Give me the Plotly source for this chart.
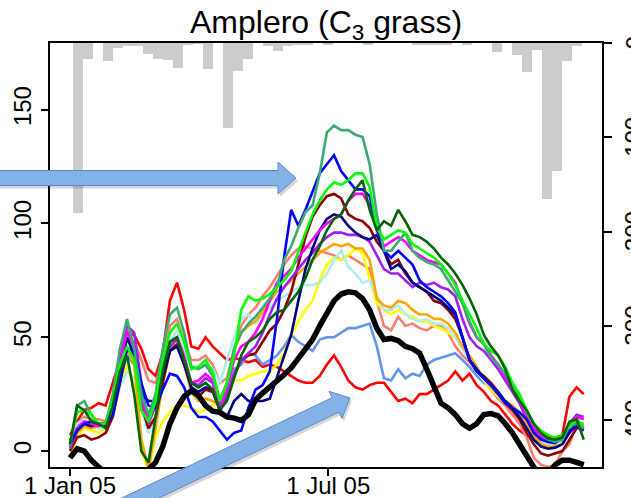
import math
import pandas as pd
import plotly.graph_objects as go

# ---------------- data ----------------
days = pd.date_range("2005-01-01", periods=73, freq="5D")

red = [7, 13, 18, 19, 21, 20, 30, 40, 52, 51,
       45, 36, 33, 43, 66, 74, 62, 46, 45, 50,
       46, 43, 40, 41, 40, 39, 40, 37, 38, 37,
       35, 33, 31, 30, 30, 33, 38, 42, 37, 31,
       28, 27, 29, 30, 30, 26, 22, 23, 21, 25,
       25, 27, 29, 31, 35, 31, 34, 29, 26, 22,
       20, 16, 12, 9, 7, 6.5, 6, 6, 6, 7,
       24, 28, 25]
salmon = [4, 12, 15, 14, 14, 13, 22, 35, 49, 48,
          40, 31, 30, 40, 55, 58, 48, 40, 40, 42,
          38, 30, 32, 45, 55, 60, 63, 68, 72, 77,
          82, 86, 89, 90, 89, 88, 87, 86, 84, 86,
          84, 82, 80, 66, 55, 53, 59, 55, 56, 54,
          53, 55, 55, 52, 46, 42, 39, 36, 31, 27,
          23, 20, 16, 12, 6, -3, -6, -7, -6, 0,
          3, 12, 12]
blue = [3, 9, 12, 13, 12, 11, 16, 30, 45, 44,
        30, 20, 19, 27, 34, 33, 28, 19, 15, 15,
        13, 9, 5, 8, 9, 19, 27, 29, 35, 58,
        85, 106, 99, 106, 114, 122, 126, 130, 123, 119,
        115, 115, 112, 98, 88, 85, 88, 85, 82, 75,
        72, 70, 68, 65, 61, 50, 40, 35, 32, 29,
        25, 21, 19, 17, 14, 8, 5, 4, 3.5, 6,
        9, 11, 9]
seagreen = [2, 20, 22, 16, 12, 12, 25, 45, 58, 45,
            25, 16, 25, 45, 60, 63, 52, 37, 36, 38,
            33, 22, 30, 45, 52, 56, 59, 63, 67, 72,
            84, 90, 98, 105, 108, 122, 140, 143, 141, 141,
            139, 138, 126, 104, 88, 88, 92, 96, 88, 85,
            83, 82, 80, 75, 70, 65, 57, 50, 47, 41,
            38, 34, 29, 24, 17, 12, 8, 5, 4, 5,
            11, 12, 10]
lime = [4, 17, 18, 16, 12, 12, 22, 38, 46, 40,
        18, 13, 22, 40, 52, 56, 48, 36, 37, 40,
        35, 22, 30, 42, 62, 68, 66, 67, 69, 72,
        75, 79, 88, 96, 104, 110, 115, 118, 117, 119,
        122, 122, 116, 98, 93, 95, 97, 96, 91, 89,
        87, 85, 82, 78, 73, 66, 60, 54, 47, 44,
        42, 37, 30, 25, 18, 12, 9, 7, 6, 7,
        11, 14, 11]
darkgreen = [3, 20, 18, 13, 12, 10, 20, 35, 42, 25,
             0, -5, 15, 35, 48, 50, 40, 30, 28, 30,
             27, 18, 22, 32, 42, 48, 50, 53, 58, 61,
             62, 66, 70, 76, 84, 90, 97, 102, 104, 110,
             115, 119, 106, 97, 101, 99, 106, 101, 95, 94,
             92, 89, 85, 82, 78, 73, 67, 60, 51, 46,
             42, 36, 27, 22, 18, 12, 8, 5.5, 5, 6,
             13, 14, 5]
darkred = [0, 6, 7, 5, 6, 8, 15, 30, 45, 42,
           20, 10, 15, 30, 44, 47, 40, 28, 24, 27,
           26, 18, 24, 33, 40, 42, 43, 48, 53, 56,
           62, 70, 82, 94, 103, 108, 112, 113, 111, 104,
           102, 101, 98, 92, 88, 82, 84, 78, 74, 72,
           70, 66, 65, 62, 58, 50, 40, 35, 33, 30,
           26, 21, 18, 14, 8, 3, -1, -2, -1, 0,
           5, 10, 10]
navy = [2, 10, 12, 11, 12, 12, 20, 35, 50, 42,
        25, 22, 22, 33, 44, 46, 38, 28, 26, 28,
        27, 18, 15, 22, 25, 22, 22, 22, 23, 32,
        42, 51, 66, 80, 89, 97, 102, 104, 103, 99,
        96, 94, 93, 95, 88, 80, 82, 79, 74, 72,
        70, 68, 66, 63, 60, 50, 40, 36, 32, 29,
        26, 22, 19, 15, 10, 5, 2, 1, 1.5, 3,
        8, 12, 10]
magenta = [2, 10, 13, 12, 11, 12, 22, 38, 53, 45,
           22, 14, 22, 37, 48, 50, 42, 30, 31, 34,
           31, 20, 28, 40, 46, 48, 52, 58, 66, 74,
           77, 80, 85, 89, 93, 97, 100, 102, 104, 110,
           113, 113, 108, 97, 90, 92, 94, 92, 88, 86,
           84, 83, 82, 78, 74, 65, 56, 50, 47, 42,
           38, 33, 27, 22, 15, 10, 7, 5, 5, 6,
           12, 15, 14]
purple = [1, 9, 12, 11, 12, 12, 22, 40, 55, 52,
          30, 12, 20, 35, 46, 49, 40, 30, 29, 32,
          30, 17, 25, 34, 40, 43, 46, 52, 60, 67,
          72, 76, 80, 84, 87, 91, 94, 96, 96, 95,
          95, 94, 92, 86, 80, 78, 78, 75, 72, 74,
          73, 74, 72, 71, 68, 58, 50, 46, 44, 40,
          36, 31, 26, 21, 14, 9, 6, 5, 5, 6,
          12, 16, 15]
orange = [0, 8, 11, 10, 11, 12, 20, 33, 45, 38,
          5, -8, 10, 30, 44, 50, 38, 26, 22, 23,
          22, 20, 30, 44, 52, 55, 57, 61, 66, 70,
          72, 75, 78, 81, 84, 87, 89, 91, 90, 91,
          89, 89, 84, 67, 64, 63, 66, 65, 62, 60,
          60, 58, 58, 56, 52, 46, 42, 37, 32, 28,
          25, 22, 20, 17, 12, 7, 3, 2, 2, 3,
          9, 13, 12]
yellow = [-2, 6, 10, 9, 8, 10, 16, 28, 38, 30,
          0, -8, 6, 13, 17, 20, 20, 19, 17, 18,
          20, 22, 28, 31, 31, 33, 34, 35, 35, 38,
          43, 51, 57, 62, 66, 75, 82, 85, 84, 86,
          89, 87, 76, 65, 62, 60, 62, 60, 59, 57,
          57, 55, 54, 52, 50, 45, 41, 36, 31, 27,
          24, 21, 19, 16, 12, 6, 3, 2, 2, 3,
          10, 13, 12]
lightcyan = [1, 12, 14, 12, 10, 10, 18, 28, 35, 32,
             18, 8, 16, 33, 48, 53, 45, 38, 36, 38,
             36, 30, 40, 50, 58, 60, 56, 60, 63, 66,
             68, 70, 72, 73, 73, 74, 78, 84, 88, 81,
             78, 74, 75, 68, 62, 62, 64, 60, 58, 57,
             58, 56, 56, 54, 50, 45, 40, 35, 31, 28,
             25, 22, 19, 16, 11, 7, 4, 3, 3, 4,
             10, 12, 10]
cornflower = [3, 11, 13, 12, 11, 12, 18, 30, 42, 38,
              20, 15, 22, 33, 44, 46, 38, 30, 28, 30,
              27, 20, 28, 36, 38, 43, 42, 38, 40, 42,
              46, 51, 48, 46, 44, 49, 50, 50, 52, 54,
              54, 55, 56, 46, 32, 31, 36, 32, 34, 33,
              38, 40, 41, 42, 43, 40, 37, 33, 30, 28,
              25, 22, 19, 16, 11, 6, 3, 2.5, 3, 4,
              9, 12, 11]
black = [-3, 1, 0, -4, -7, -10, -12, -14, -14, -13,
         -11, -8, -5, 2, 12, 19, 24, 26.5, 24.5, 20,
         17.5, 17, 15, 14.5, 13.5, 16, 22.5, 25.5, 28, 30.5,
         33.5, 36.5, 41, 44.5, 49, 55, 61, 66, 69, 70,
         69.5, 67, 62, 54, 49, 49.5, 48.5, 46, 45, 43,
         36, 28, 21, 19, 16, 12, 10, 12, 16, 16.5,
         15.5, 12, 8, 3, -2, -7, -12, -10, -6, -4,
         -4, -5, -6]

precip_weeks = pd.date_range("2005-01-03", periods=51, freq="7D")
precip_mm = [180, 16.5, 0, 19.5, 5.5, 3, 3, 11.5, 16.5, 18.5,
             26, 2.5, 0.5, 28, 0, 90, 29.5, 16.5, 0, 3.5,
             8, 3, 2.5, 2.5, 0, 1.5, 0, 0, 0, 1.5,
             0, 0, 0, 0, 1.5, 1.5, 1.5, 1.5, 0, 1.5,
             0, 0, 10, 0, 12.5, 30.5, 7, 165, 136, 19,
             3.5]

left_ticks = [0, 50, 100, 150]
right_ticks = [0, 100, 200, 300, 400]
x_tick_dates = ["2005-01-01", "2005-07-01"]
x_tick_text = ["1 Jan 05", "1 Jul 05"]

line_series = [
    (red, "#FF0000"), (salmon, "#FA8072"), (cornflower, "#6495ED"),
    (yellow, "#FFFF00"), (lightcyan, "#AEEEEE"), (orange, "#FFA500"),
    (darkred, "#8B0000"), (purple, "#A020F0"), (navy, "#000080"),
    (magenta, "#FF00FF"), (blue, "#0000FF"), (seagreen, "#3DAA74"),
    (lime, "#00FF00"), (darkgreen, "#006400"),
]

# ---------------- figure ----------------
fig = go.Figure()
fig.add_trace(go.Bar(
    x=precip_weeks + pd.Timedelta(hours=84), y=precip_mm,
    width=7 * 86400000, marker=dict(color="#CCCCCC", line=dict(width=0)),
    yaxis="y", hoverinfo="skip"))

for vals, col in line_series:
    fig.add_trace(go.Scatter(x=days, y=vals, mode="lines",
                             line=dict(color=col, width=2.6), yaxis="y2"))
fig.add_trace(go.Scatter(x=days, y=black, mode="lines",
                         line=dict(color="black", width=5.5), yaxis="y2"))

# plot-area geometry in pixels (for decorative arrows)
L, R, T, B = 50, 602, 43, 467
W, H = R - L, B - T


def to_paper(px, py):
    return (px - L) / W, (B - py) / H


def arrow_path(tip, angle_deg, tail_len, head_len, head_half, body_half, off=(0, 0)):
    a = math.radians(angle_deg)
    ux, uy = math.cos(a), -math.sin(a)
    nx, ny = -uy, ux
    tx, ty = tip[0] + off[0], tip[1] + off[1]
    bx, by = tx - head_len * ux, ty - head_len * uy
    cx, cy = bx - tail_len * ux, by - tail_len * uy
    pts = [(cx - body_half * nx, cy - body_half * ny),
           (bx - body_half * nx, by - body_half * ny),
           (bx - head_half * nx, by - head_half * ny),
           (tx, ty),
           (bx + head_half * nx, by + head_half * ny),
           (bx + body_half * nx, by + body_half * ny),
           (cx + body_half * nx, cy + body_half * ny)]
    conv = [to_paper(*p) for p in pts]
    return "M " + " L ".join(f"{x:.5f},{y:.5f}" for x, y in conv) + " Z"


arrows = [((296, 178), 0, 330, 18, 16, 7.5), ((350, 398), 25.5, 330, 16, 15, 8)]
shapes = []
for tip, ang, tl, hl, hh, bh in arrows:
    shapes.append(dict(type="path", xref="paper", yref="paper",
                       path=arrow_path(tip, ang, tl, hl, hh, bh, off=(2, 3)),
                       fillcolor="rgba(0,0,0,0.16)", line=dict(width=0), layer="above"))
    shapes.append(dict(type="path", xref="paper", yref="paper",
                       path=arrow_path(tip, ang, tl, hl, hh, bh),
                       fillcolor="#86B1E6", line=dict(color="#5B8AC6", width=1), layer="above"))

FONT = "Liberation Sans, Arial, Helvetica, sans-serif"

# right-hand axis labels (rotated, as in the reference)
annotations = [dict(text=str(v), x=(618 - L) / W, xref="paper", xanchor="left",
                    y=v, yref="y", yanchor="middle", textangle=-90, showarrow=False,
                    font=dict(size=24, family=FONT, color="black"))
               for v in right_ticks]

fig.update_layout(
    width=631, height=498,
    margin=dict(l=L, r=631 - R, t=T, b=498 - B, autoexpand=False),
    paper_bgcolor="white", plot_bgcolor="white",
    showlegend=False, bargap=0,
    font=dict(family=FONT, color="black", size=24),
    title=dict(text="Amplero (C<sub>3</sub> grass)", x=0.5, xref="paper", xanchor="center",
               y=1 - 22 / 498, yref="container", yanchor="middle",
               font=dict(size=32, family=FONT, color="black")),
    xaxis=dict(type="date", range=["2004-12-18", "2006-01-08 19:00"],
               tickvals=x_tick_dates, ticktext=x_tick_text, automargin=False,
               ticks="outside", ticklen=7, tickwidth=1.5, tickcolor="black",
               ticklabelstandoff=-11,
               showline=True, linecolor="black", linewidth=1.5, mirror=True,
               showgrid=False, zeroline=False, tickfont=dict(size=24)),
    yaxis=dict(side="right", range=[449.5, 0], tickvals=right_ticks, automargin=False,
               showticklabels=False, ticks="outside", ticklen=8, tickwidth=1.5, tickcolor="black",
               showline=True, linecolor="black", linewidth=1.5, mirror=True,
               showgrid=False, zeroline=False),
    yaxis2=dict(overlaying="y", side="left", range=[-7, 179.3], tickvals=left_ticks,
                automargin=False,
                tickangle=-90, ticks="outside", ticklen=8, tickwidth=1.5, tickcolor="black",
                showline=False, showgrid=False, zeroline=False, tickfont=dict(size=24)),
    shapes=shapes,
    annotations=annotations,
)

fig.write_html("out.html")
